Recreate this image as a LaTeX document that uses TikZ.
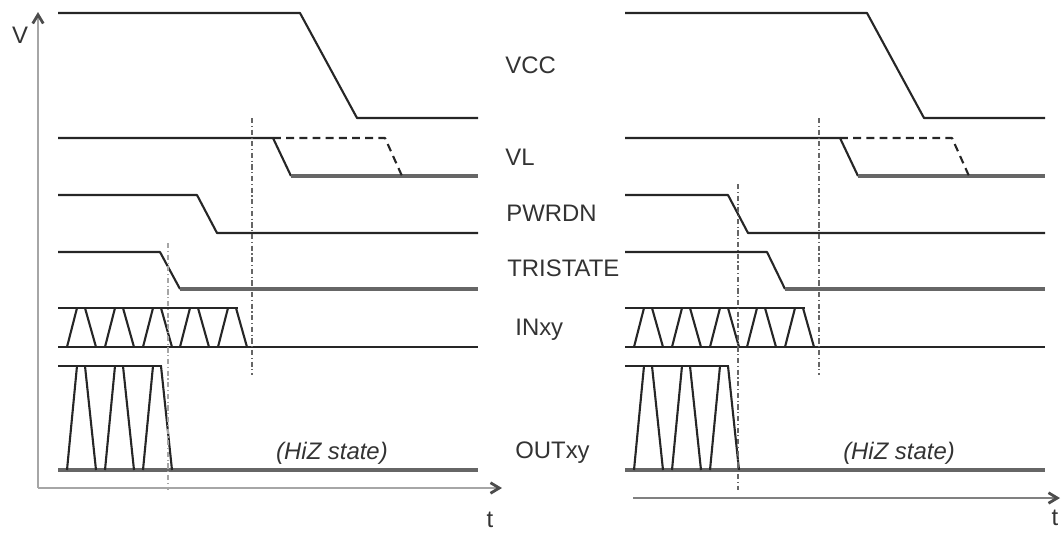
\documentclass[tikz,border=0pt]{standalone}
\usepackage{fontspec}
\setmainfont{Liberation Sans}
\usetikzlibrary{positioning, arrows.meta}

\begin{document}
\begin{tikzpicture}[
x=0.02cm, y=-0.02cm,
sig/.style={draw=black!85, line width=1.2pt, line join=round},
siglow/.style={draw=black!60, line width=1.9pt},
axis/.style={draw=black!35, line width=1.6pt, -{Straight Barb[length=5pt,width=6pt,black!70]}},
guide/.style={draw=black!60, line width=0.6pt, dash pattern=on 3pt off 1.5pt on 0.6pt off 1.5pt},
lbl/.style={anchor=west, inner sep=0pt, text=black!80, font=\fontsize{13.6}{16}\selectfont},
]
\useasboundingbox (0,0) rectangle (1061,532);

% Axes
\coordinate (o1) at (38,488);
\coordinate (vtop) at (38,12);
\coordinate (t1) at (502,488);
\coordinate (o2) at (633,498);
\coordinate (t2) at (1060,498);
\draw[axis] (o1) -- (vtop);
\draw[axis] (o1) -- (t1);
\draw[axis, draw=black!50] (o2) -- (t2);
\node[lbl, anchor=center] (vlab) at (20,35) {V};
\node[lbl, anchor=center] (tlab1) at (490,520) {t};
\node[lbl, anchor=center] (tlab2) at (1055,518) {t};

% Signal names
\node[lbl] (vcc) at (505,65) {VCC};
\node[lbl] (vl) at (505,157) {VL};
\node[lbl] (pwrdn) at (506,213) {PWRDN};
\node[lbl] (tristate) at (507,268) {TRISTATE};
\node[lbl] (inxy) at (515,330) {INxy};
\node[lbl] (outxy) at (515,453) {OUTxy};

% Waveforms common to both cases
\foreach \dx in {0,567} {
\begin{scope}[shift={(\dx,0)}]
% VCC
\draw[sig] (58,13) -- (300,13) -- (357,118) -- (478,118);
% VL
\draw[sig] (58,138) -- (273,138) -- (291,176);
\draw[siglow] (291,176) -- (478,176);
\draw[sig, dash pattern=on 4.5pt off 3pt] (273,138) -- (385,138) -- (402,176);
% INxy
\draw[sig] (58,308) -- (238,308);
\draw[sig, line width=1.5pt] (58,347) -- (478,347);
\foreach \p in {67,105,143,180,218}
  \draw[sig] (\p,347) -- ++(10,-39) ++(8,0) -- ++(11,39);
% OUTxy
\draw[sig] (58,366) -- (162,366);
\draw[siglow] (58,470) -- (478,470);
\foreach \p in {67,105,143}
  \draw[sig] (\p,470) -- ++(10,-104) ++(8,0) -- ++(11,104);
\node[lbl, anchor=center, font=\fontsize{13.6}{16}\selectfont\itshape] (hiz\dx) at (332,453) {(HiZ state)};
\end{scope}
}

% PWRDN then TRISTATE (left)
\draw[sig] (58,195) -- (197,195) -- (217,233) -- (478,233);
\draw[sig] (58,252) -- (160,252) -- (180,289);
\draw[siglow] (180,289) -- (478,289);

% TRISTATE then PWRDN (right)
\draw[sig] (625,195) -- (728,195) -- (748,233) -- (1045,233);
\draw[sig] (625,252) -- (767,252) -- (785,289);
\draw[siglow] (785,289) -- (1045,289);

% Timing guides
\draw[guide] (252,118) -- (252,375);
\draw[guide, draw=black!35] (168,243) -- (168,490);
\draw[guide] (819,118) -- (819,375);
\draw[guide] (738,184) -- (738,490);

\end{tikzpicture}
\end{document}
